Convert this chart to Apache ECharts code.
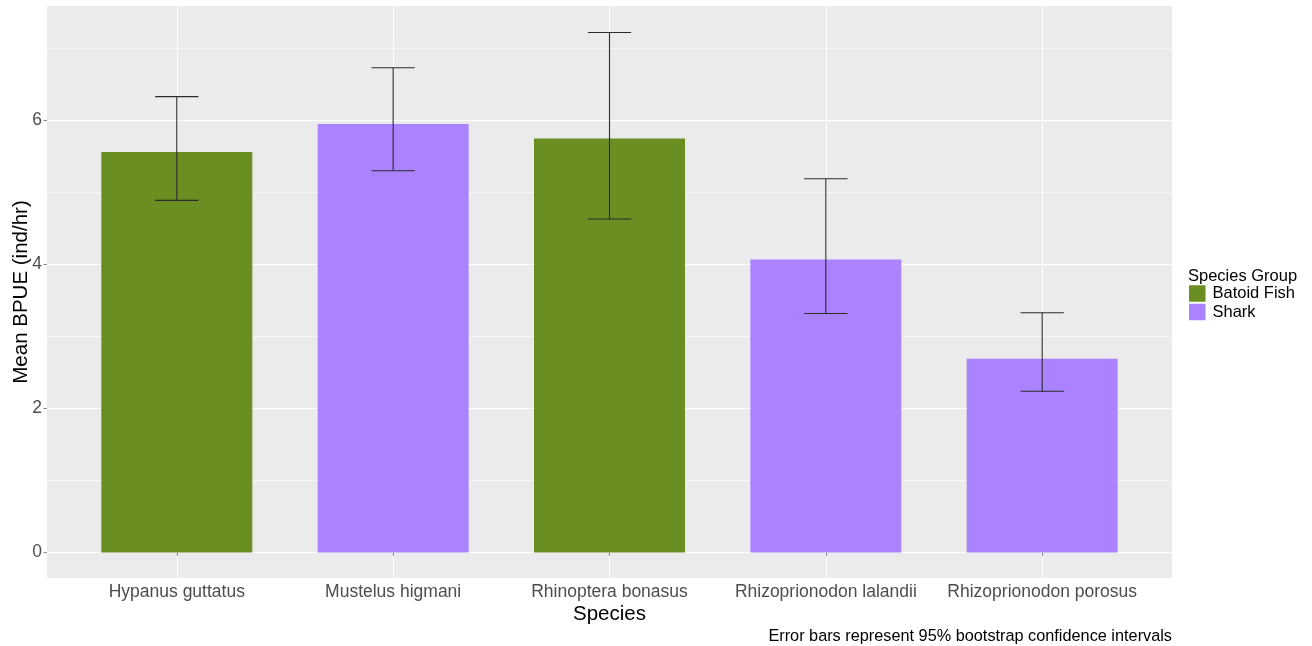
<!DOCTYPE html>
<html>
<head>
<meta charset="utf-8">
<script src="https://cdn.jsdelivr.net/npm/echarts@6/dist/echarts.min.js"></script>
<style>
  html, body { margin: 0; padding: 0; background: #ffffff; }
  #chart { width: 1312px; height: 646px; }
</style>
</head>
<body>
<div id="chart"></div>
<script>
// Mean BPUE per species with 95% bootstrap confidence intervals
const species = ['Hypanus guttatus', 'Mustelus higmani', 'Rhinoptera bonasus', 'Rhizoprionodon lalandii', 'Rhizoprionodon porosus'];
const groups = ['Batoid Fish', 'Shark', 'Batoid Fish', 'Shark', 'Shark'];
const meanBPUE = [5.56, 5.95, 5.75, 4.07, 2.69];
const ciLower = [4.89, 5.30, 4.63, 3.32, 2.24];
const ciUpper = [6.33, 6.73, 7.22, 5.19, 3.33];
const groupNames = ['Batoid Fish', 'Shark'];
const groupColors = ['#6B8E23', '#AB82FF'];
const yMajorTicks = [0, 2, 4, 6];
const yMinorTicks = [1, 3, 5, 7];
const speciesPositions = [1, 2, 3, 4, 5];

const FONT = '"Liberation Sans", Arial, sans-serif';

const barSeries = groupNames.map((g, gi) => ({
  name: g,
  type: 'bar',
  barWidth: 151,
  barGap: '-100%',
  z: 3,
  itemStyle: { color: groupColors[gi] },
  data: species.map((s, i) => groups[i] === g ? [speciesPositions[i], meanBPUE[i]] : [speciesPositions[i], null])
}));

const option = {
  animation: false,
  backgroundColor: '#ffffff',
  textStyle: { fontFamily: FONT },
  grid: {
    left: 47, right: 140, top: 6, bottom: 68,
    outerBoundsMode: 'none',
    containLabel: false,
    show: true, backgroundColor: '#EBEBEB', borderWidth: 0
  },
  title: {
    text: 'Error bars represent 95% bootstrap confidence intervals',
    right: 140, top: 629, padding: 0,
    textStyle: { fontFamily: FONT, fontSize: 16.3, fontWeight: 'normal', color: '#000000' }
  },
  legend: {
    data: groupNames,
    orient: 'vertical',
    left: 1189, top: 285,
    padding: 0,
    itemWidth: 16.5, itemHeight: 16.5, itemGap: 1.5,
    icon: 'rect',
    textStyle: { fontFamily: FONT, fontSize: 16.5, lineHeight: 16.5, color: '#000000', padding: [0, 0, 0, 2] }
  },
  graphic: [{
    type: 'text', left: 1188, top: 267.5,
    style: { text: 'Species Group', font: '16.5px ' + FONT, fill: '#000000' }
  }],
  xAxis: {
    type: 'value',
    min: 0.4, max: 5.6,
    name: 'Species',
    nameLocation: 'middle',
    nameGap: 26,
    nameMoveOverlap: false,
    nameTextStyle: { fontFamily: FONT, fontSize: 20.5, color: '#000000' },
    axisLine: { show: false },
    axisTick: { show: true, length: 3.5, customValues: speciesPositions, lineStyle: { color: '#8a8a8a', width: 1 } },
    axisLabel: {
      customValues: speciesPositions,
      margin: 5,
      fontFamily: FONT, fontSize: 17.5, color: '#4D4D4D',
      formatter: v => species[Math.round(v) - 1] || ''
    },
    splitLine: { show: true, lineStyle: { color: '#FFFFFF', width: 1.1 } }
  },
  yAxis: {
    type: 'value',
    min: -0.353, max: 7.588,
    name: 'Mean BPUE (ind/hr)',
    nameLocation: 'middle',
    nameGap: 15,
    nameRotate: 90,
    nameMoveOverlap: false,
    nameTextStyle: { fontFamily: FONT, fontSize: 20.5, color: '#000000' },
    axisLine: { show: false },
    axisTick: { show: true, length: 3.5, customValues: yMajorTicks, lineStyle: { color: '#8a8a8a', width: 1 } },
    axisLabel: {
      customValues: yMajorTicks,
      margin: 5,
      fontFamily: FONT, fontSize: 17.5, color: '#4D4D4D'
    },
    splitLine: { show: true, lineStyle: { color: '#FFFFFF', width: 1.1 } }
  },
  series: [
    {
      // minor horizontal gridlines
      type: 'custom',
      silent: true,
      z: 1,
      data: yMinorTicks.map(v => [0.4, v]),
      renderItem: (params, api) => {
        const cs = params.coordSys;
        const y = api.coord([api.value(0), api.value(1)])[1];
        return {
          type: 'line',
          shape: { x1: cs.x, y1: y, x2: cs.x + cs.width, y2: y },
          style: { stroke: '#FFFFFF', lineWidth: 0.6 }
        };
      }
    },
    ...barSeries,
    {
      // error bars
      type: 'custom',
      silent: true,
      z: 5,
      data: species.map((s, i) => [speciesPositions[i], ciLower[i], ciUpper[i]]),
      renderItem: (params, api) => {
        const x = api.value(0);
        const lo = api.coord([x, api.value(1)]);
        const hi = api.coord([x, api.value(2)]);
        const half = api.size([0.2, 0])[0] / 2;
        const style = { stroke: '#2b2b2b', lineWidth: 1.1 };
        return {
          type: 'group',
          children: [
            { type: 'line', shape: { x1: lo[0], y1: lo[1], x2: hi[0], y2: hi[1] }, style },
            { type: 'line', shape: { x1: hi[0] - half, y1: hi[1], x2: hi[0] + half, y2: hi[1] }, style },
            { type: 'line', shape: { x1: lo[0] - half, y1: lo[1], x2: lo[0] + half, y2: lo[1] }, style }
          ]
        };
      }
    }
  ]
};

const chart = echarts.init(document.getElementById('chart'), null, { renderer: 'canvas' });
chart.setOption(option);
</script>
</body>
</html>
